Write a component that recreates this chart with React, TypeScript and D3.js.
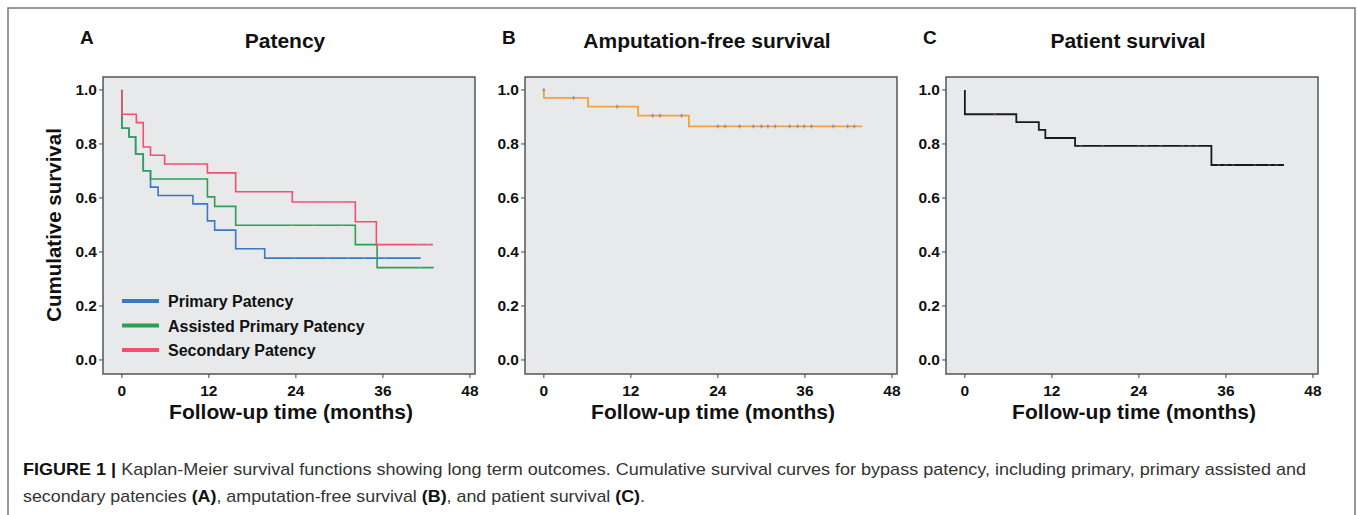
import * as d3 from "d3";

// Panel A: patency (months, cumulative survival)
const primaryT = [0, 0, 1.0, 1.9, 2.95, 3.95, 5.0, 9.8, 11.8, 12.8, 15.7, 19.7, 41.2];
const primaryS = [1.0, 0.858, 0.826, 0.763, 0.701, 0.64, 0.609, 0.578, 0.515, 0.481, 0.412, 0.377, 0.377];
const primaryCensor = [0, 23.7, 28.4, 31.2, 33.4, 36.3];

const assistedT = [0, 0, 1.0, 1.9, 2.95, 3.95, 11.8, 12.8, 15.7, 32.2, 35.2, 43.0];
const assistedS = [1.0, 0.858, 0.826, 0.763, 0.701, 0.67, 0.604, 0.569, 0.499, 0.427, 0.342, 0.342];
const assistedCensor = [23.4, 26.4, 30.3, 41.1];

const secondaryT = [0, 0, 2.0, 2.95, 3.95, 5.9, 11.8, 15.7, 23.5, 32.2, 35.1, 42.9];
const secondaryS = [1.0, 0.91, 0.879, 0.789, 0.758, 0.726, 0.693, 0.623, 0.585, 0.512, 0.427, 0.427];
const secondaryCensor = [9.8, 25.2, 26.3, 27.7, 28.6, 29.5, 30.4, 40.9, 42.2];

// Panel B: amputation-free survival
const aftT = [0, 0, 6.1, 13.0, 20.0, 43.9];
const aftS = [1.0, 0.971, 0.938, 0.905, 0.865, 0.865];
const aftCensor = [0, 4.1, 10.1, 15.0, 16.0, 19.0, 24.0, 25.0, 27.0, 28.9, 30.0, 30.9, 31.9, 33.9, 35.0, 35.9, 36.9, 39.9, 41.9, 42.8];

// Panel C: patient survival
const psT = [0, 0, 7.1, 10.2, 11.1, 15.2, 34.0, 44.0];
const psS = [1.0, 0.91, 0.881, 0.852, 0.822, 0.793, 0.722, 0.722];
const psCensor = [4.1, 16.0, 19.0, 24.0, 25.0, 27.0, 30.0, 31.0, 32.0, 35.0, 36.0, 37.0, 40.0, 42.0, 43.0];

const xTicks = [0, 12, 24, 36, 48];
const yTicks = [0, 0.2, 0.4, 0.6, 0.8, 1.0];
const legendLabels = ["Primary Patency", "Assisted Primary Patency", "Secondary Patency"];

const FONT = "'Liberation Sans', Arial, sans-serif";
const NARROW = "'Liberation Sans Narrow', 'Liberation Sans', Arial, sans-serif";
const BG = "#e8e9eb";

type Series = { t: number[]; s: number[]; censor: number[]; color: string; censorColor: string; width: number; cross: boolean };

// survival value just before time t (step function)
const survAt = (T: number[], S: number[], t: number) => {
  let v = S[0];
  T.forEach((ti, i) => {
    if (ti < t) v = S[i];
  });
  return v;
};

const Panel = ({ left, letter, title, series, legend }: { left: number; letter: string; title: string; series: Series[]; legend?: boolean }) => {
  const boxW = 372;
  const top = 77;
  const bottom = 374;
  const x = d3.scaleLinear().domain([-2.6, 48.7]).range([left, left + boxW]);
  const y = d3.scaleLinear().domain([-0.052, 1.048]).range([bottom, top]);
  const line = d3
    .line<[number, number]>()
    .x((d) => x(d[0]))
    .y((d) => y(d[1]))
    .curve(d3.curveStepAfter);
  const cx = left + boxW / 2;

  return (
    <g>
      <text x={left - 23} y={44} fontFamily={FONT} fontWeight="bold" fontSize={19} fill="#111">
        {letter}
      </text>
      <text x={cx - 4} y={48} textAnchor="middle" fontFamily={NARROW} fontWeight="bold" fontSize={21} fill="#111">
        {title}
      </text>
      <rect x={left} y={top} width={boxW} height={bottom - top} fill={BG} stroke="#555" strokeWidth={1.5} />
      {yTicks.map((v) => (
        <g key={v}>
          <line x1={left - 4} x2={left} y1={y(v)} y2={y(v)} stroke="#444" />
          <text x={left - 6} y={y(v) + 5.5} textAnchor="end" fontFamily={FONT} fontWeight="bold" fontSize={15.5} fill="#111">
            {v.toFixed(1)}
          </text>
        </g>
      ))}
      {xTicks.map((v) => (
        <g key={v}>
          <line x1={x(v)} x2={x(v)} y1={bottom} y2={bottom + 4} stroke="#444" />
          <text x={x(v)} y={bottom + 22} textAnchor="middle" fontFamily={FONT} fontWeight="bold" fontSize={15.5} fill="#111">
            {v}
          </text>
        </g>
      ))}
      {series.map((sr, i) => (
        <g key={i}>
          <path d={line(sr.t.map((t, j) => [t, sr.s[j]] as [number, number])) || ""} fill="none" stroke={sr.color} strokeWidth={sr.width} />
          {sr.censor.map((c, j) => {
            const cy = y(survAt(sr.t, sr.s, c));
            return (
              <g key={j} stroke={sr.censorColor} strokeWidth={1} opacity={sr.cross ? 0.9 : 0.6}>
                {sr.cross && <line x1={x(c)} x2={x(c)} y1={cy - 2} y2={cy + 2} />}
                <line x1={x(c) - 1.5} x2={x(c) + 1.5} y1={cy} y2={cy} />
              </g>
            );
          })}
        </g>
      ))}
      {legend &&
        legendLabels.map((lab, i) => (
          <g key={lab}>
            <line x1={left + 19} x2={left + 56} y1={301 + i * 24.5} y2={301 + i * 24.5} stroke={series[i].color} strokeWidth={4} />
            <text x={left + 65} y={307 + i * 24.5} fontFamily={FONT} fontWeight="bold" fontSize={16} fill="#111">
              {lab}
            </text>
          </g>
        ))}
      <text x={cx + 2} y={419} textAnchor="middle" fontFamily={FONT} fontWeight="bold" fontSize={21} fill="#111">
        Follow-up time (months)
      </text>
    </g>
  );
};

const App = () => {
  const patency: Series[] = [
    { t: primaryT, s: primaryS, censor: primaryCensor, color: "#3a78c6", censorColor: "#8fb0de", width: 1.6, cross: false },
    { t: assistedT, s: assistedS, censor: assistedCensor, color: "#2f9e55", censorColor: "#8fb0de", width: 1.6, cross: false },
    { t: secondaryT, s: secondaryS, censor: secondaryCensor, color: "#f0516f", censorColor: "#a0aede", width: 1.6, cross: false },
  ];
  const amputation: Series[] = [{ t: aftT, s: aftS, censor: aftCensor, color: "#f6a13a", censorColor: "#7a86a8", width: 1.8, cross: true }];
  const patient: Series[] = [{ t: psT, s: psS, censor: psCensor, color: "#1a1a1a", censorColor: "#5b8ed6", width: 1.8, cross: false }];

  return (
    <svg width={1357} height={515} style={{ position: "absolute", left: 0, top: 0, background: "#fff" }}>
      <rect x={8} y={8} width={1347} height={540} fill="#fff" stroke="#777" strokeWidth={1.5} />
      <Panel left={103} letter="A" title="Patency" series={patency} legend />
      <Panel left={525} letter="B" title="Amputation-free survival" series={amputation} />
      <Panel left={946} letter="C" title="Patient survival" series={patient} />
      <text
        transform="translate(61,225) rotate(-90)"
        textAnchor="middle"
        fontFamily={FONT}
        fontWeight="bold"
        fontSize={20.5}
        fill="#111"
      >
        Cumulative survival
      </text>
      <text x={23} y={475} fontFamily={NARROW} fontSize={17} fill="#333" textLength={1283} lengthAdjust="spacingAndGlyphs">
        <tspan fontWeight="bold" fill="#111">FIGURE 1 |</tspan> Kaplan-Meier survival functions showing long term outcomes. Cumulative survival curves for bypass patency, including primary, primary assisted and
      </text>
      <text x={23} y={502} fontFamily={NARROW} fontSize={17} fill="#333" textLength={622} lengthAdjust="spacingAndGlyphs">
        secondary patencies <tspan fontWeight="bold" fill="#111">(A)</tspan>, amputation-free survival{" "}
        <tspan fontWeight="bold" fill="#111">(B)</tspan>, and patient survival <tspan fontWeight="bold" fill="#111">(C)</tspan>.
      </text>
    </svg>
  );
};

export default App;
